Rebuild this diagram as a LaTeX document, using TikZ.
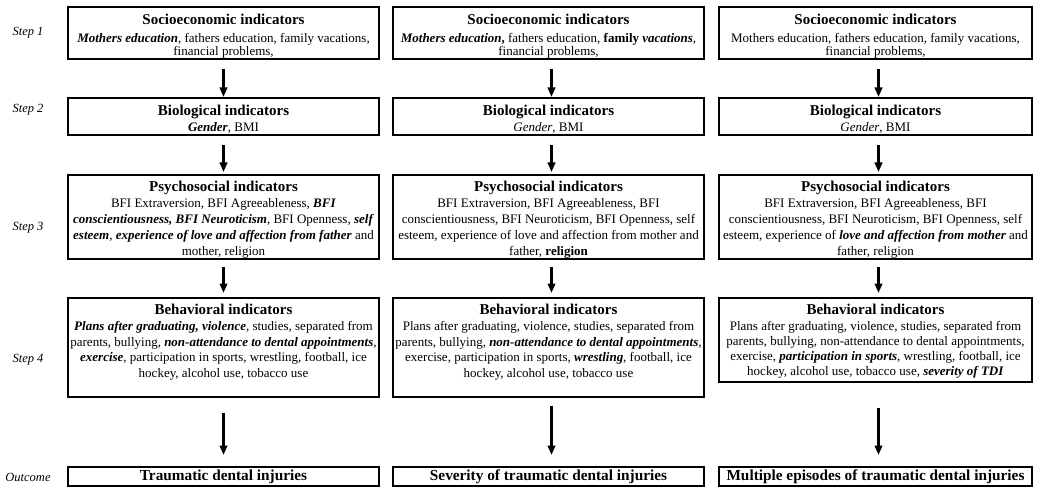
\documentclass[tikz,border=0pt]{standalone}
\usepackage{fontspec}
\setmainfont{Liberation Serif}
\usetikzlibrary{arrows.meta}
\newcommand\hd[1]{{\fontsize{15}{16}\selectfont\bfseries #1}}
\newcommand\bxi[1]{\textbf{\textit{#1}}}
\begin{document}
\begin{tikzpicture}[x=1pt,y=-1pt,
  box/.style={draw, line width=1.3pt, minimum width=311pt, anchor=north west, inner sep=0pt, outer sep=0pt},
  txt/.style={anchor=north, align=center, inner sep=0pt, font=\fontsize{13}{15.5}\selectfont},
  otxt/.style={font=\fontsize{15.3}{16}\selectfont\bfseries},
  flow/.style={-{Triangle[width=7.5pt,length=9.5pt]}, line width=2.2pt},
  steplab/.style={font=\fontsize{12.5}{14}\selectfont\itshape, anchor=center, inner sep=0pt}]
\useasboundingbox (0,0) rectangle (1038,489);

% step labels
\node[steplab] (l1) at (28,33) {Step 1};
\node[steplab] (l2) at (28,110) {Step 2};
\node[steplab] (l3) at (28,228) {Step 3};
\node[steplab] (l4) at (28,360) {Step 4};
\node[steplab] (l5) at (28,477) {Outcome};

% boxes
\foreach \c/\x/\w in {1/68/311, 2/393/311, 3/719/313} {
  \node[box, minimum width=\w pt, minimum height=52pt] (s\c) at (\x,7) {};
  \node[box, minimum width=\w pt, minimum height=37pt] (b\c) at (\x,98) {};
  \node[box, minimum width=\w pt, minimum height=84pt] (p\c) at (\x,175) {};
}
\node[box, minimum height=99pt] (h1) at (68,298) {};
\node[box, minimum height=99pt] (h2) at (393,298) {};
\node[box, minimum width=313pt, minimum height=84pt] (h3) at (719,298) {};
\node[box, minimum height=19pt, otxt] (o1) at (68,467) {Traumatic dental injuries};
\node[box, minimum height=19pt, otxt] (o2) at (393,467) {Severity of traumatic dental injuries};
\node[box, minimum width=313pt, minimum height=19pt, otxt] (o3) at (719,467) {Multiple episodes of traumatic dental injuries};

% column 1 texts
\node[txt] (ts1) at ([yshift=-7pt]s1.north) {\hd{Socioeconomic indicators}\\[2pt]
  \bxi{Mothers education}, fathers education, family vacations,\\[-2.5pt]
  financial problems,};
\node[txt] (tb1) at ([yshift=-6.5pt]b1.north) {\hd{Biological indicators}\\[0.5pt]
  \bxi{Gender}, BMI};
\node[txt] (tp1) at ([yshift=-6pt]p1.north) {\hd{Psychosocial indicators}\\[0.5pt]
  BFI Extraversion, BFI Agreeableness, \bxi{BFI}\\[0.3pt]
  \bxi{conscientiousness, BFI Neuroticism}, BFI Openness, \bxi{self}\\[0.3pt]
  \bxi{esteem}, \bxi{experience of love and affection from father} and\\[0.3pt]
  mother, religion};
\node[txt] (th1) at ([yshift=-6pt]h1.north) {\hd{Behavioral indicators}\\[0.5pt]
  \bxi{Plans after graduating, violence}, studies, separated from\\
  parents, bullying, \bxi{non-attendance to dental appointments},\\
  \bxi{exercise}, participation in sports, wrestling, football, ice\\
  hockey, alcohol use, tobacco use};

% column 2 texts
\node[txt] (ts2) at ([yshift=-7pt]s2.north) {\hd{Socioeconomic indicators}\\[2pt]
  \bxi{Mothers education}\textbf{,} fathers education, \textbf{family \textit{vacations}},\\[-2.5pt]
  financial problems,};
\node[txt] (tb2) at ([yshift=-6.5pt]b2.north) {\hd{Biological indicators}\\[0.5pt]
  \textit{Gender}, BMI};
\node[txt] (tp2) at ([yshift=-6pt]p2.north) {\hd{Psychosocial indicators}\\[0.5pt]
  BFI Extraversion, BFI Agreeableness, BFI\\[0.3pt]
  conscientiousness, BFI Neuroticism, BFI Openness, self\\[0.3pt]
  esteem, experience of love and affection from mother and\\[0.3pt]
  father, \textbf{religion}};
\node[txt] (th2) at ([yshift=-6pt]h2.north) {\hd{Behavioral indicators}\\[0.5pt]
  Plans after graduating, violence, studies, separated from\\
  parents, bullying, \bxi{non-attendance to dental appointments},\\
  exercise, participation in sports, \bxi{wrestling}, football, ice\\
  hockey, alcohol use, tobacco use};

% column 3 texts
\node[txt] (ts3) at ([yshift=-7pt]s3.north) {\hd{Socioeconomic indicators}\\[2pt]
  Mothers education, fathers education, family vacations,\\[-2.5pt]
  financial problems,};
\node[txt] (tb3) at ([yshift=-6.5pt]b3.north) {\hd{Biological indicators}\\[0.5pt]
  \textit{Gender}, BMI};
\node[txt] (tp3) at ([yshift=-6pt]p3.north) {\hd{Psychosocial indicators}\\[0.5pt]
  BFI Extraversion, BFI Agreeableness, BFI\\[0.3pt]
  conscientiousness, BFI Neuroticism, BFI Openness, self\\[0.3pt]
  esteem, experience of \bxi{love and affection from mother} and\\[0.3pt]
  father, religion};
\node[txt] (th3) at ([yshift=-6pt]h3.north) {\hd{Behavioral indicators}\\[0.5pt]
  Plans after graduating, violence, studies, separated from\\[-0.5pt]
  parents, bullying, non-attendance to dental appointments,\\[-0.5pt]
  exercise, \bxi{participation in sports}, wrestling, football, ice\\[-0.5pt]
  hockey, alcohol use, tobacco use, \bxi{severity of TDI}};

% arrows
\foreach \c/\dx/\last in {1/0/16, 2/3/9, 3/3/26} {
  \draw[flow, shorten <=10pt, shorten >=1pt] ([xshift=\dx pt]s\c.south) -- ([xshift=\dx pt]b\c.north);
  \draw[flow, shorten <=10pt, shorten >=3pt] ([xshift=\dx pt]b\c.south) -- ([xshift=\dx pt]p\c.north);
  \draw[flow, shorten <=8pt, shorten >=5pt] ([xshift=\dx pt]p\c.south) -- ([xshift=\dx pt]h\c.north);
  \draw[flow, shorten <=\last pt, shorten >=12pt] ([xshift=\dx pt]h\c.south) -- ([xshift=\dx pt]o\c.north);
}
\end{tikzpicture}
\end{document}
